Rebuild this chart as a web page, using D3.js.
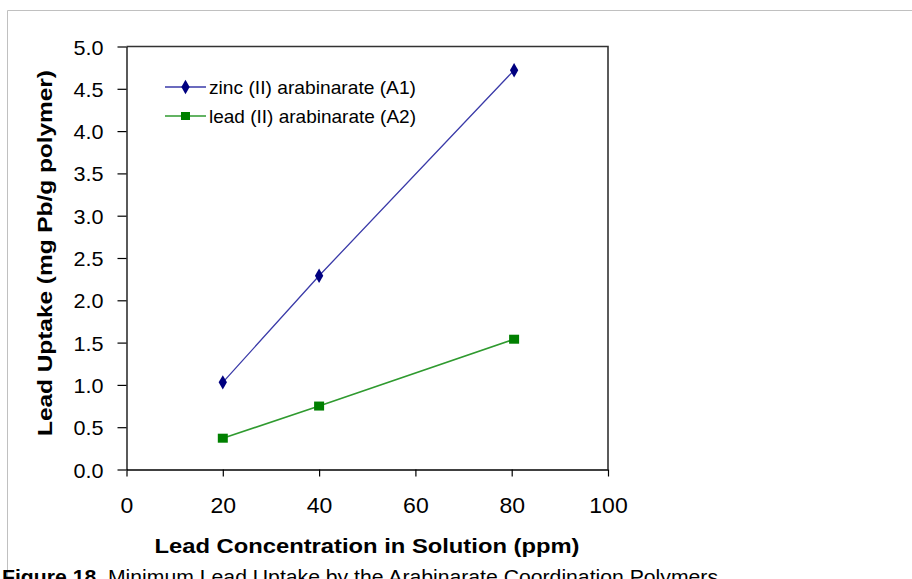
<!DOCTYPE html>
<html><head><meta charset="utf-8">
<script src="https://cdn.jsdelivr.net/npm/d3@7"></script>
<style>body{margin:0;background:#fff;overflow:hidden}svg{display:block}</style>
</head><body>
<svg id="c" width="912" height="579"></svg>
<script>
const concentration = [20, 40, 80.5];
const zincUptake = [1.03, 2.29, 4.72];
const leadUptake = [0.37, 0.75, 1.54];
const seriesNames = ["zinc (II) arabinarate (A1)", "lead (II) arabinarate (A2)"];
const xTicks = [0, 20, 40, 60, 80, 100];
const yTicks = [0, 0.5, 1, 1.5, 2, 2.5, 3, 3.5, 4, 4.5, 5];

const svg = d3.select("#c");
const font = "'Liberation Sans', Arial, sans-serif";
const L = 126.5, R = 608, T = 46.5, B = 469.5;
const x = d3.scaleLinear().domain([0, 100]).range([L, R]);
const y = d3.scaleLinear().domain([0, 5]).range([B, T]);

// page frame
svg.append("path").attr("d", "M7.5,600 V10.5 H920").attr("fill", "none").attr("stroke", "#c0c0c0").attr("stroke-width", 1);

// plot frame top/right
svg.append("path").attr("d", `M${L},${T} H${R} V${B}`).attr("fill", "none").attr("stroke", "#333").attr("stroke-width", 1.6);

// axes
const xAxis = svg.append("g").attr("transform", `translate(0,${B})`)
  .call(d3.axisBottom(x).tickValues(xTicks).tickSize(7).tickSizeOuter(0).tickFormat(d3.format("d")));
const yAxis = svg.append("g").attr("transform", `translate(${L},0)`)
  .call(d3.axisLeft(y).tickValues(yTicks).tickSize(9).tickSizeOuter(0).tickFormat(d3.format(".1f")));
[xAxis, yAxis].forEach(g => {
  g.attr("font-size", null).attr("font-family", null);
  g.select(".domain").attr("stroke", "#000").attr("stroke-width", 1.3);
  g.selectAll(".tick line").attr("stroke", "#000").attr("stroke-width", 1.2);
  g.selectAll("text").attr("fill", "#000").attr("font-family", font);
});
xAxis.selectAll(".tick text").attr("font-size", 22).attr("dy", null).attr("y", 43.5)
  .each(function(d){ const n = String(d).length; d3.select(this).attr("textLength", n*12.8).attr("lengthAdjust","spacingAndGlyphs"); });
yAxis.selectAll(".tick text").attr("font-size", 21).attr("x", -23).attr("dy", "0.36em")
  .attr("textLength", 30).attr("lengthAdjust", "spacingAndGlyphs");

// lines
const line = d3.line().x(d => x(d[0])).y(d => y(d[1]));
const zinc = concentration.map((c, i) => [c, zincUptake[i]]);
const lead = concentration.map((c, i) => [c, leadUptake[i]]);
svg.append("path").datum(zinc).attr("d", line).attr("fill", "none").attr("stroke", "#3a3aa8").attr("stroke-width", 1.3);
svg.append("path").datum(lead).attr("d", line).attr("fill", "none").attr("stroke", "#2f9a2f").attr("stroke-width", 1.6);

const diamond = d3.symbol().type(d3.symbolDiamond).size(60);
svg.selectAll(".zm").data(zinc).enter().append("path")
  .attr("transform", d => `translate(${x(d[0])},${y(d[1])})`).attr("d", diamond).attr("fill", "#000080");
svg.selectAll(".lm").data(lead).enter().append("rect")
  .attr("x", d => x(d[0]) - 5).attr("y", d => y(d[1]) - 4.5).attr("width", 10).attr("height", 9).attr("fill", "#008000");

// legend
const lg = [{name: seriesNames[0], color: "#3a3aa8", mc: "#000080", type: "d", yy: 87},
            {name: seriesNames[1], color: "#2f9a2f", mc: "#008000", type: "s", yy: 116}];
lg.forEach(o => {
  svg.append("line").attr("x1", 165).attr("x2", 206).attr("y1", o.yy).attr("y2", o.yy).attr("stroke", o.color).attr("stroke-width", 1.5);
  if (o.type === "d") svg.append("path").attr("transform", `translate(185.5,${o.yy})`).attr("d", diamond).attr("fill", o.mc);
  else svg.append("rect").attr("x", 181).attr("y", o.yy - 4).attr("width", 9).attr("height", 8).attr("fill", o.mc);
  svg.append("text").attr("x", 209).attr("y", o.yy + 6.5).attr("font-family", font).attr("font-size", 19)
    .attr("textLength", 207).attr("lengthAdjust", "spacingAndGlyphs").attr("fill", "#000").text(o.name);
});

// axis titles
svg.append("text").attr("x", 367).attr("y", 553).attr("text-anchor", "middle").attr("font-family", font)
  .attr("font-weight", "bold").attr("font-size", 21).attr("textLength", 425).attr("lengthAdjust", "spacingAndGlyphs")
  .text("Lead Concentration in Solution (ppm)");
svg.append("text").attr("transform", "translate(52,253) rotate(-90)").attr("text-anchor", "middle").attr("font-family", font)
  .attr("font-weight", "bold").attr("font-size", 19.5).attr("textLength", 366).attr("lengthAdjust", "spacingAndGlyphs")
  .text("Lead Uptake (mg Pb/g polymer)");

// caption
const cap = svg.append("text").attr("x", 2).attr("y", 584).attr("font-family", font).attr("font-size", 21).attr("fill", "#000")
  .attr("textLength", 716).attr("lengthAdjust", "spacingAndGlyphs");
cap.append("tspan").attr("font-weight", "bold").text("Figure 18");
cap.append("tspan").text(". Minimum Lead Uptake by the  Arabinarate Coordination Polymers");
</script>
</body></html>
